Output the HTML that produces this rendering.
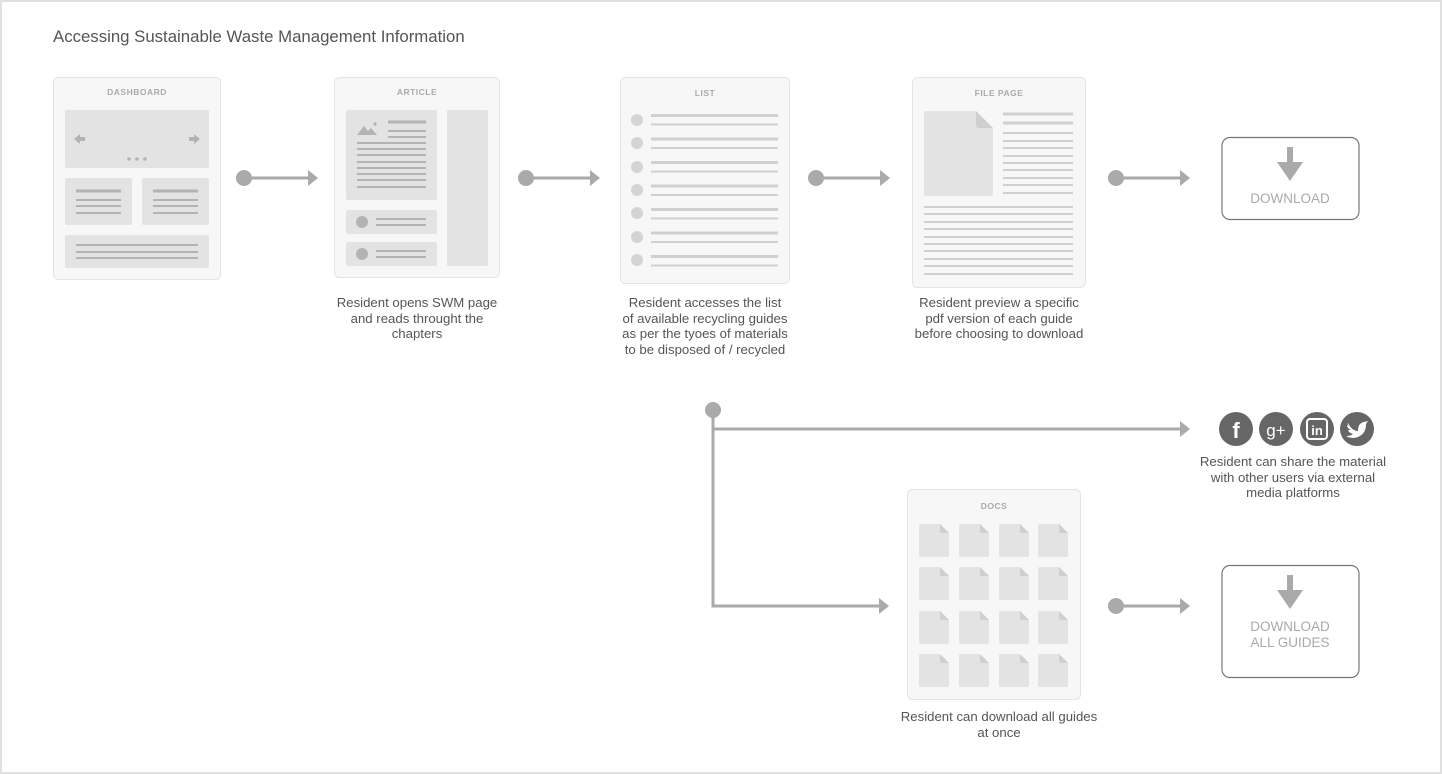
<!DOCTYPE html>
<html><head><meta charset="utf-8"><style>
html,body{margin:0;padding:0;background:#fff}
svg{display:block}
text{font-family:"Liberation Sans",Arial,sans-serif}
</style></head><body>
<svg width="1442" height="774" viewBox="0 0 1442 774" xmlns="http://www.w3.org/2000/svg">
<rect x="1" y="1" width="1440" height="772" fill="#fff" stroke="#e0e0e0" stroke-width="2"/>
<text x="53" y="42" font-size="16.8" fill="#555">Accessing Sustainable Waste Management Information</text>

<defs>
<g id="arr">
<circle cx="0" cy="0" r="8" fill="#aaa"/>
<line x1="0" y1="0" x2="66" y2="0" stroke="#aaa" stroke-width="3"/>
<polygon points="64,-8 74,0 64,8" fill="#aaa"/>
</g>
<g id="doc">
<path d="M0,2 Q0,0 2,0 L21,0 L30,9 L30,31 Q30,33 28,33 L2,33 Q0,33 0,31 Z" fill="#e3e3e3"/>
<path d="M21,0 L30,9 L23,9 Q21,9 21,7 Z" fill="#cfcfcf"/>
</g>
</defs>

<!-- DASHBOARD -->
<rect x="53.5" y="77.5" width="167" height="202" rx="5" fill="#f7f7f8" stroke="#e4e4e6"/>
<text x="137" y="95" font-size="8.5" font-weight="bold" fill="#aaa" text-anchor="middle" letter-spacing="0.5">DASHBOARD</text>
<rect x="65" y="110" width="144" height="58" rx="2" fill="#e3e3e3"/>
<polygon points="74,139 80,134 80,137 85,137 85,141 80,141 80,144" fill="#b3b3b3"/>
<polygon points="200,139 194,134 194,137 189,137 189,141 194,141 194,144" fill="#b3b3b3"/>
<circle cx="129" cy="159" r="1.8" fill="#b3b3b3"/><circle cx="137" cy="159" r="1.8" fill="#b3b3b3"/><circle cx="145" cy="159" r="1.8" fill="#b3b3b3"/>
<rect x="65" y="178" width="67" height="47" rx="2" fill="#e3e3e3"/>
<rect x="142" y="178" width="67" height="47" rx="2" fill="#e3e3e3"/>
<g stroke="#b3b3b3" stroke-width="2">
<line x1="76" y1="191" x2="121" y2="191" stroke-width="3"/><line x1="76" y1="200" x2="121" y2="200"/><line x1="76" y1="206" x2="121" y2="206"/><line x1="76" y1="213" x2="121" y2="213"/>
<line x1="153" y1="191" x2="198" y2="191" stroke-width="3"/><line x1="153" y1="200" x2="198" y2="200"/><line x1="153" y1="206" x2="198" y2="206"/><line x1="153" y1="213" x2="198" y2="213"/>
</g>
<rect x="65" y="235" width="144" height="33" rx="2" fill="#e3e3e3"/>
<g stroke="#b3b3b3" stroke-width="2"><line x1="76" y1="245" x2="198" y2="245"/><line x1="76" y1="252" x2="198" y2="252"/><line x1="76" y1="258" x2="198" y2="258"/></g>

<use href="#arr" x="244" y="178"/>

<!-- ARTICLE -->
<rect x="334.5" y="77.5" width="165" height="200" rx="5" fill="#f7f7f8" stroke="#e4e4e6"/>
<text x="417" y="95" font-size="8.5" font-weight="bold" fill="#aaa" text-anchor="middle" letter-spacing="0.5">ARTICLE</text>
<rect x="346" y="110" width="91" height="90" rx="2" fill="#e3e3e3"/>
<polygon points="357,135 364,126 368,131 371,128 377,135" fill="#b3b3b3"/>
<circle cx="375" cy="124" r="1.6" fill="#b3b3b3"/>
<g stroke="#b3b3b3" stroke-width="2">
<line x1="388" y1="122" x2="426" y2="122" stroke-width="3"/><line x1="388" y1="131" x2="426" y2="131"/><line x1="388" y1="137" x2="426" y2="137"/>
<line x1="357" y1="143" x2="426" y2="143"/><line x1="357" y1="149" x2="426" y2="149"/><line x1="357" y1="155" x2="426" y2="155"/><line x1="357" y1="162" x2="426" y2="162"/><line x1="357" y1="168" x2="426" y2="168"/><line x1="357" y1="174" x2="426" y2="174"/><line x1="357" y1="180" x2="426" y2="180"/><line x1="357" y1="187" x2="426" y2="187"/>
</g>
<rect x="447" y="110" width="41" height="156" rx="2" fill="#e3e3e3"/>
<rect x="346" y="210" width="91" height="24" rx="2" fill="#e3e3e3"/>
<rect x="346" y="242" width="91" height="24" rx="2" fill="#e3e3e3"/>
<circle cx="362" cy="222" r="6" fill="#b3b3b3"/><circle cx="362" cy="254" r="6" fill="#b3b3b3"/>
<g stroke="#b3b3b3" stroke-width="2"><line x1="376" y1="219" x2="426" y2="219"/><line x1="376" y1="225" x2="426" y2="225"/><line x1="376" y1="251" x2="426" y2="251"/><line x1="376" y1="257" x2="426" y2="257"/></g>

<use href="#arr" x="526" y="178"/>

<!-- LIST -->
<rect x="620.5" y="77.5" width="169" height="206" rx="5" fill="#f7f7f8" stroke="#e4e4e6"/>
<text x="705" y="96" font-size="8.5" font-weight="bold" fill="#aaa" text-anchor="middle" letter-spacing="0.5">LIST</text>
<g fill="#d4d4d4"><circle cx="637" cy="120" r="6"/><circle cx="637" cy="143" r="6"/><circle cx="637" cy="167" r="6"/><circle cx="637" cy="190" r="6"/><circle cx="637" cy="213" r="6"/><circle cx="637" cy="237" r="6"/><circle cx="637" cy="260" r="6"/></g>
<g stroke="#d0d0d0">
<line x1="651" y1="115.5" x2="778" y2="115.5" stroke-width="3"/><line x1="651" y1="124.5" x2="778" y2="124.5" stroke-width="2"/>
<line x1="651" y1="139" x2="778" y2="139" stroke-width="3"/><line x1="651" y1="148" x2="778" y2="148" stroke-width="2"/>
<line x1="651" y1="162.5" x2="778" y2="162.5" stroke-width="3"/><line x1="651" y1="171.5" x2="778" y2="171.5" stroke-width="2"/>
<line x1="651" y1="186" x2="778" y2="186" stroke-width="3"/><line x1="651" y1="195" x2="778" y2="195" stroke-width="2"/>
<line x1="651" y1="209.5" x2="778" y2="209.5" stroke-width="3"/><line x1="651" y1="218.5" x2="778" y2="218.5" stroke-width="2"/>
<line x1="651" y1="233" x2="778" y2="233" stroke-width="3"/><line x1="651" y1="242" x2="778" y2="242" stroke-width="2"/>
<line x1="651" y1="256.5" x2="778" y2="256.5" stroke-width="3"/><line x1="651" y1="265.5" x2="778" y2="265.5" stroke-width="2"/>
</g>

<use href="#arr" x="816" y="178"/>

<!-- FILE PAGE -->
<rect x="912.5" y="77.5" width="173" height="210" rx="5" fill="#f7f7f8" stroke="#e4e4e6"/>
<text x="999" y="96" font-size="8.5" font-weight="bold" fill="#aaa" text-anchor="middle" letter-spacing="0.5">FILE PAGE</text>
<path d="M924,113 Q924,111 926,111 L976,111 L993,128 L993,194 Q993,196 991,196 L926,196 Q924,196 924,194 Z" fill="#e3e3e3"/>
<path d="M976,111 L993,128 L979,128 Q976,128 976,125 Z" fill="#cfcfcf"/>
<g stroke="#d0d0d0">
<line x1="1003" y1="114" x2="1073" y2="114" stroke-width="3"/><line x1="1003" y1="123" x2="1073" y2="123" stroke-width="3"/>
<g stroke-width="2"><line x1="1003" y1="133" x2="1073" y2="133"/><line x1="1003" y1="141" x2="1073" y2="141"/><line x1="1003" y1="148" x2="1073" y2="148"/><line x1="1003" y1="156" x2="1073" y2="156"/><line x1="1003" y1="163" x2="1073" y2="163"/><line x1="1003" y1="170" x2="1073" y2="170"/><line x1="1003" y1="178" x2="1073" y2="178"/><line x1="1003" y1="185" x2="1073" y2="185"/><line x1="1003" y1="193" x2="1073" y2="193"/>
<line x1="924" y1="207" x2="1073" y2="207"/><line x1="924" y1="214" x2="1073" y2="214"/><line x1="924" y1="222" x2="1073" y2="222"/><line x1="924" y1="229" x2="1073" y2="229"/><line x1="924" y1="237" x2="1073" y2="237"/><line x1="924" y1="244" x2="1073" y2="244"/><line x1="924" y1="251" x2="1073" y2="251"/><line x1="924" y1="259" x2="1073" y2="259"/><line x1="924" y1="266" x2="1073" y2="266"/><line x1="924" y1="274" x2="1073" y2="274"/></g>
</g>

<use href="#arr" x="1116" y="178"/>

<!-- DOWNLOAD -->
<rect x="1222" y="137.5" width="137" height="82" rx="8" fill="#fff" stroke="#777" stroke-width="1.2"/>
<rect x="1287" y="147" width="6" height="17" fill="#aaa"/>
<polygon points="1277,162 1303,162 1290,181" fill="#aaa"/>
<text x="1290" y="203" font-size="13.5" fill="#aaa" text-anchor="middle">DOWNLOAD</text>

<!-- labels -->
<g font-size="13.2" fill="#555" text-anchor="middle">
<text x="417" y="307">Resident opens SWM page</text><text x="417" y="323">and reads throught the</text><text x="417" y="338">chapters</text>
<text x="705" y="307">Resident accesses the list</text><text x="705" y="323">of available recycling guides</text><text x="705" y="338">as per the tyoes of materials</text><text x="705" y="354">to be disposed of / recycled</text>
<text x="999" y="307">Resident preview a specific</text><text x="999" y="323">pdf version of each guide</text><text x="999" y="338">before choosing to download</text>
<text x="1293" y="466">Resident can share the material</text><text x="1293" y="482">with other users via external</text><text x="1293" y="497">media platforms</text>
<text x="999" y="721">Resident can download all guides</text><text x="999" y="737">at once</text>
</g>

<!-- branch -->
<circle cx="713" cy="410" r="8" fill="#aaa"/>
<polyline points="713,410 713,606 880,606" fill="none" stroke="#aaa" stroke-width="3"/>
<polygon points="879,598 889,606 879,614" fill="#aaa"/>
<line x1="713" y1="429" x2="1181" y2="429" stroke="#aaa" stroke-width="3"/>
<polygon points="1180,421 1190,429 1180,437" fill="#aaa"/>

<!-- social -->
<g fill="#666"><circle cx="1236" cy="429" r="17"/><circle cx="1276" cy="429" r="17"/><circle cx="1317" cy="429" r="17"/><circle cx="1357" cy="429" r="17"/></g>
<text x="1236" y="438" font-size="22" font-weight="bold" fill="#fff" text-anchor="middle">f</text>
<text x="1276" y="436" font-size="17" fill="#fff" text-anchor="middle" font-family="Liberation Serif,serif">g+</text>
<rect x="1307" y="419" width="20" height="20" rx="3" fill="none" stroke="#fff" stroke-width="2"/>
<text x="1317" y="435" font-size="13" font-weight="bold" fill="#fff" text-anchor="middle">in</text>
<path d="M1348,423 Q1352,431 1358,431 Q1358,423 1364,422 L1368,421 L1366,424 Q1366,436 1354,438 Q1349,438 1346,436 Q1351,436 1353,434 Q1349,433 1348,430 L1351,430 Q1347,428 1347,425 L1349,426 Q1347,424 1348,423 Z" fill="#fff"/>

<!-- DOCS -->
<rect x="907.5" y="489.5" width="173" height="210" rx="5" fill="#f7f7f8" stroke="#e4e4e6"/>
<text x="994" y="509" font-size="8.5" font-weight="bold" fill="#aaa" text-anchor="middle" letter-spacing="0.5">DOCS</text>
<use href="#doc" x="919" y="524"/><use href="#doc" x="959" y="524"/><use href="#doc" x="999" y="524"/><use href="#doc" x="1038" y="524"/>
<use href="#doc" x="919" y="567"/><use href="#doc" x="959" y="567"/><use href="#doc" x="999" y="567"/><use href="#doc" x="1038" y="567"/>
<use href="#doc" x="919" y="611"/><use href="#doc" x="959" y="611"/><use href="#doc" x="999" y="611"/><use href="#doc" x="1038" y="611"/>
<use href="#doc" x="919" y="654"/><use href="#doc" x="959" y="654"/><use href="#doc" x="999" y="654"/><use href="#doc" x="1038" y="654"/>

<use href="#arr" x="1116" y="606"/>

<rect x="1222" y="565.5" width="137" height="112" rx="8" fill="#fff" stroke="#777" stroke-width="1.2"/>
<rect x="1287" y="575" width="6" height="17" fill="#aaa"/>
<polygon points="1277,590 1303,590 1290,609" fill="#aaa"/>
<text x="1290" y="631" font-size="13.5" fill="#aaa" text-anchor="middle">DOWNLOAD</text>
<text x="1290" y="647" font-size="13.5" fill="#aaa" text-anchor="middle">ALL GUIDES</text>
</svg>
</body></html>
